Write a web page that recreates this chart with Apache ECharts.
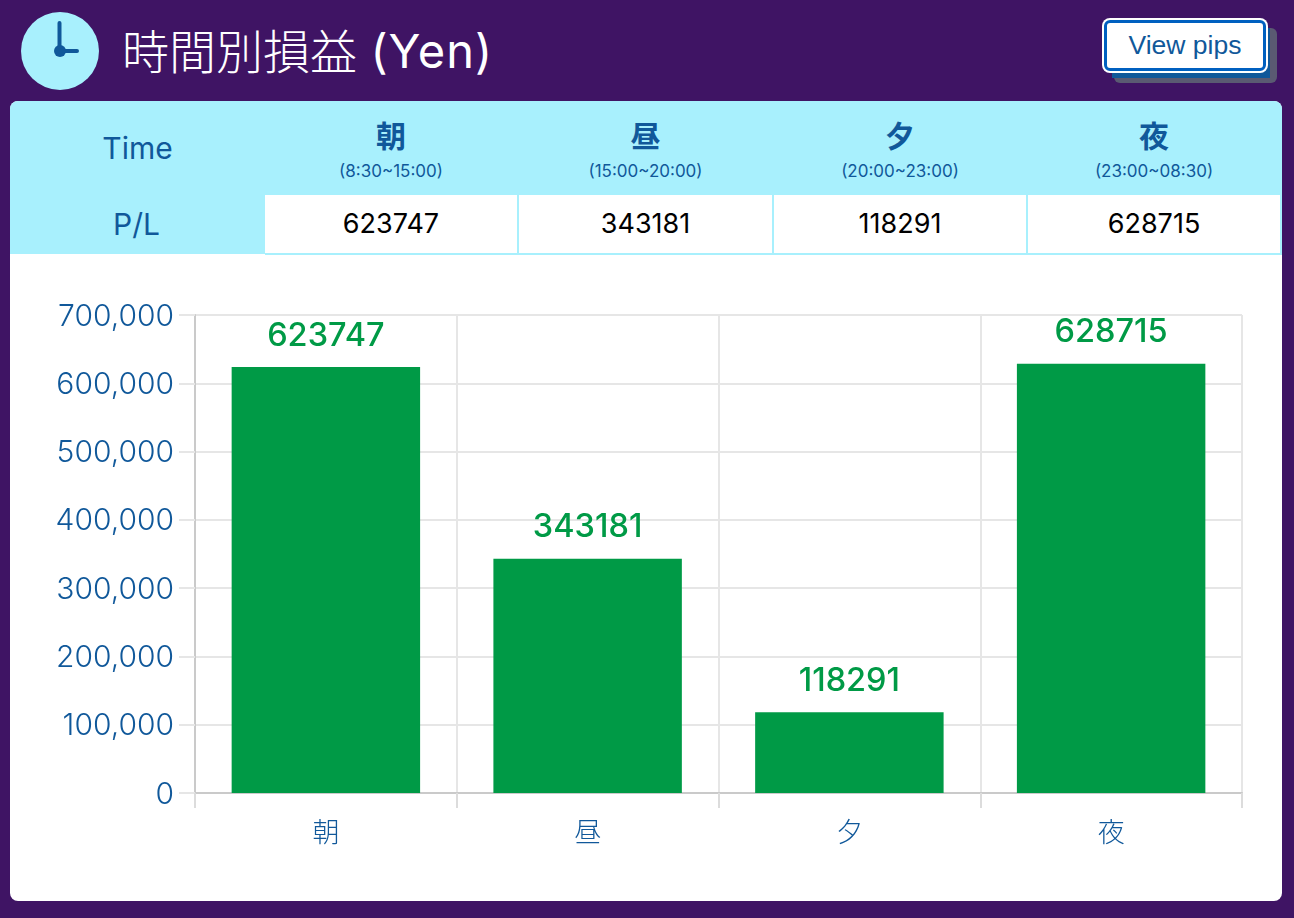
<!DOCTYPE html>
<html lang="ja"><head><meta charset="utf-8">
<style>
html,body{margin:0;padding:0;width:1294px;height:918px;overflow:hidden;background:#3f1464;}
body{position:relative;font-family:Inter,"Noto Sans CJK JP",sans-serif;}
.abs{position:absolute;box-sizing:border-box;}
#title{left:122px;top:19px;height:60px;line-height:60px;font-size:47px;color:#fff;white-space:nowrap;font-family:"Noto Sans CJK JP";font-weight:300;}
#title span{font-family:Inter;font-weight:400;font-size:47px;margin-left:3px;letter-spacing:1px;position:relative;top:-1px;}
#sh1{left:1114px;top:28px;width:163px;height:55px;background:#5a5a72;border-radius:6px;}
#sh2{left:1112px;top:28px;width:158px;height:50px;background:#10589a;}
#btn{left:1102px;top:18px;width:166px;height:55px;background:#fff;border-radius:8px;padding:2px;}
#btn div{height:100%;box-sizing:border-box;border:3px solid #0060c0;border-radius:6px;color:#10589a;font:26.5px/44px "Liberation Sans";text-align:center;}
#card{left:10px;top:101px;width:1272px;height:800px;background:#fff;border-radius:8px;overflow:hidden;}
#band{left:10px;top:101px;width:1272px;height:94px;background:#a8f0fd;border-radius:8px 8px 0 0;}
#rowhead{left:10px;top:195px;width:255px;height:59px;background:#a8f0fd;}
.hd{color:#10589a;text-align:center;}
.cell{top:195px;height:60px;border-right:2px solid #a8f0fd;border-bottom:2px solid #a8f0fd;text-align:center;font-size:27px;line-height:57px;color:#000;background:#fff;}
.big{font:700 30px/36px "Noto Sans CJK JP";}
.small{font:17px/20px Inter;}
#chart{left:10px;top:255px;width:1272px;height:646px;}
</style></head><body>
<svg class="abs" style="left:21px;top:12px" width="78" height="78" viewBox="0 0 78 78">
<circle cx="39" cy="39" r="39" fill="#a8f0fd"/>
<path d="M38.5 11V39H56" fill="none" stroke="#10589a" stroke-width="4" stroke-linecap="round"/>
<circle cx="39" cy="39" r="6" fill="#10589a"/></svg>
<div class="abs" id="title">時間別損益 <span>(Yen)</span></div>
<div class="abs" id="sh1"></div>
<div class="abs" id="sh2"></div>
<div class="abs" id="btn"><div>View pips</div></div>
<div class="abs" id="card"></div>
<div class="abs" id="band"></div>
<div class="abs" id="rowhead"></div>
<div class="abs hd" style="left:10px;width:255px;top:128px;font-size:30px;line-height:40px">Time</div>
<div class="abs hd" style="left:10px;width:253px;top:204px;font-size:30px;line-height:40px">P/L</div>
<div id="tbl"></div>
<div class="abs" id="chart"></div>
<script src="https://cdn.jsdelivr.net/npm/echarts@6/dist/echarts.min.js"></script>
<script>
const categories = ["朝","昼","夕","夜"];
const timeRanges = ["(8:30~15:00)","(15:00~20:00)","(20:00~23:00)","(23:00~08:30)"];
const plValues = [623747,343181,118291,628715];
const cellLefts = [265,519,774,1028];
const cellWidths = [254,255,254,254];
document.getElementById("tbl").innerHTML = categories.map((c,i)=>{
  const l = cellLefts[i], w = cellWidths[i];
  return `<div class="abs hd big" style="left:${l}px;width:${w-2}px;top:116px">${c}</div>`+
         `<div class="abs hd small" style="left:${l}px;width:${w-2}px;top:161px">${timeRanges[i]}</div>`+
         `<div class="abs cell" style="left:${l}px;width:${w}px">${plValues[i]}</div>`;
}).join("");
const chart = echarts.init(document.getElementById("chart"));
const blue = "#10589a", green = "#009a46";
chart.setOption({
  animation:false,
  grid:{left:185,right:40,top:60,bottom:108,containLabel:false},
  xAxis:{type:"category",data:categories,
    axisLine:{lineStyle:{color:"#cacaca",width:2}},
    axisTick:{show:true,length:15,lineStyle:{color:"#dcdcdc",width:2}},
    axisLabel:{color:blue,fontSize:27,margin:25,fontFamily:"Noto Sans CJK JP",fontWeight:300},
    splitLine:{show:true,lineStyle:{color:"#e6e6e6",width:2}}},
  yAxis:{type:"value",min:0,max:700000,interval:100000,
    axisLine:{show:true,lineStyle:{color:"#cacaca",width:2}},
    axisTick:{show:true,length:16,lineStyle:{color:"#e6e6e6",width:2}},
    axisLabel:{margin:21,
      formatter:v=>"{a|"+v.toLocaleString("en-US")+"}",
      rich:{a:{color:blue,fontSize:30,fontFamily:"Inter",fontWeight:300,padding:[3,0,0,0]}}},
    splitLine:{show:true,lineStyle:{color:"#e6e6e6",width:2}}},
  series:[{type:"bar",data:plValues,barCategoryGap:"28%",
    itemStyle:{color:green},
    label:{show:true,position:"top",distance:14.5,color:green,fontSize:32.5,fontFamily:"Inter",fontWeight:500}}]
});
</script></body></html>
